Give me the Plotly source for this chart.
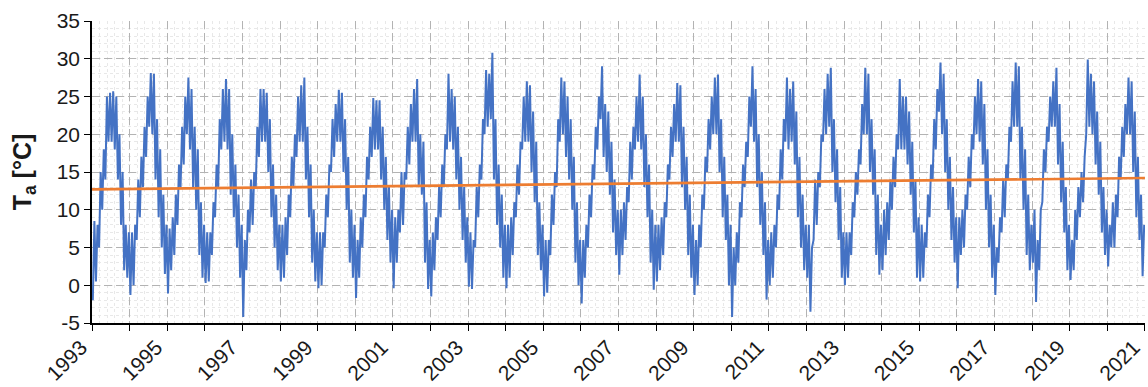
import plotly.graph_objects as go

# ---- data (monthly upper / lower envelope of daily Ta, °C) ----
years = list(range(1993, 2021))

t_high = [
    [8.5, 8, 15, 18, 25, 25.5, 25.7, 25, 20, 15, 8, 7],        # 1993
    [7, 8, 14, 17, 21, 25, 28.1, 28, 22, 18, 12, 8],           # 1994
    [7.5, 9, 12, 16, 21, 25, 27.5, 26, 21, 18, 11, 8],         # 1995
    [7, 7, 11, 16, 22, 26, 27.3, 26, 20, 16, 12, 8],           # 1996
    [6, 10, 14, 15, 21, 26, 26, 25.5, 22, 16, 12, 8],          # 1997
    [8, 9, 12, 17, 20, 25, 26.5, 27.5, 21, 16, 10, 7],         # 1998
    [7, 7, 12, 16, 22, 24, 25.9, 25.5, 22, 17, 10, 8],         # 1999
    [6, 9, 12, 17, 21, 24.8, 24.5, 24.5, 21, 17, 13, 10],      # 2000
    [9, 10, 15, 15, 21, 24, 26, 27.3, 20, 19, 11, 6],          # 2001
    [7, 9, 13, 16, 20, 28, 26, 25, 21, 17, 13, 9],             # 2002
    [7, 6, 13, 16, 22, 28.5, 28, 30.8, 22, 16, 12, 8],         # 2003
    [8, 9, 11, 16, 19, 25, 27, 26.5, 23, 19, 11, 8],           # 2004
    [6, 6, 12, 15, 22, 27.5, 27, 25, 22, 17, 11, 6],           # 2005
    [6, 8, 12, 16, 21, 25, 29, 24, 23, 19, 14, 10],            # 2006
    [10, 11, 13, 19, 21, 25, 27.9, 25, 20, 16, 10, 8],         # 2007
    [8, 9, 11, 16, 21, 24, 26.8, 26.5, 21, 17, 12, 8],         # 2008
    [6, 8, 12, 17, 22, 25, 27.5, 27.9, 22, 17, 12, 8],         # 2009
    [5, 7, 11, 16, 19, 25, 29, 26, 20, 15, 11, 6],             # 2010
    [7, 8, 12, 18, 22, 27.5, 26, 27, 23, 17, 12, 8],           # 2011
    [8, 5, 14, 15, 20, 26, 28, 28.8, 22, 18, 13, 7],           # 2012
    [7, 7, 11, 15, 18, 24, 28.8, 28, 22, 18, 12, 8],           # 2013
    [10, 11, 14, 17, 20, 27.3, 25, 25, 23, 19, 14, 9],         # 2014
    [8, 7, 12, 16, 22, 26, 29.5, 28, 22, 17, 13, 9],           # 2015
    [9, 10, 12, 17, 20, 25, 27.3, 27, 24, 18, 12, 8],          # 2016
    [5, 9, 14, 16, 21, 27, 29.5, 29, 21, 18, 12, 8],           # 2017
    [10, 6, 10, 18, 21, 25, 27, 28.8, 24, 19, 13, 8],          # 2018
    [6, 10, 13, 15, 17, 29.9, 28, 27, 23, 19, 13, 10],         # 2019
    [8, 11, 12, 17, 21, 24, 27.5, 27, 23, 17, 12, 8],          # 2020
]

t_low = [
    [-2, 0.5, 5, 10, 14, 19, 19, 18, 14, 8, 2, 1],             # 1993
    [-1.3, 0, 6, 9, 13, 17, 21, 20, 14, 9, 5, 1.5],            # 1994
    [-1.1, 2, 4, 8, 13, 16, 20, 18, 13, 10, 4, 1],             # 1995
    [0.3, 0.5, 4, 9, 13, 18, 19, 18, 12, 9, 5, 1],             # 1996
    [-4.2, 2, 7, 8, 13, 17, 19, 19, 15, 9, 5, 2],              # 1997
    [0.5, 1, 4, 9, 13, 17, 19, 19, 14, 9, 3, 0.5],             # 1998
    [-0.4, 0, 5, 9, 15, 17, 19, 19, 15, 10, 3, 1],             # 1999
    [-1.7, 1, 5, 9, 14, 17, 18, 18, 14, 10, 6, 3],             # 2000
    [-0.4, 3, 7, 8, 14, 16, 19, 19, 13, 12, 3, -0.5],          # 2001
    [-1.5, 2, 6, 9, 13, 18, 19, 18, 14, 10, 6, 3],             # 2002
    [-0.2, -0.5, 5, 9, 14, 20, 21, 22, 14, 8, 5, 1],           # 2003
    [-0.4, 1, 4, 9, 12, 18, 19, 19, 15, 11, 4, 2],             # 2004
    [-1.5, -1, 4, 8, 13, 19, 20, 17, 14, 10, 3, 0],            # 2005
    [-2.4, 1, 5, 9, 14, 18, 22, 17, 15, 12, 7, 4],             # 2006
    [1.4, 4, 6, 11, 14, 18, 19, 18, 13, 9, 3, -0.6],           # 2007
    [0.5, 2, 4, 9, 14, 17, 19, 19, 13, 10, 4, 1],              # 2008
    [-1.3, 0, 5, 10, 15, 18, 20, 20, 15, 9, 6, 0],             # 2009
    [-4.2, 0, 3, 9, 13, 17, 21, 19, 13, 8, 4, -1.9],           # 2010
    [0, 1, 5, 10, 14, 19, 18, 19, 16, 9, 5, 2],                # 2011
    [1, -3.5, 6, 8, 13, 19, 20, 21, 15, 11, 6, 1],             # 2012
    [0, 1, 4, 9, 12, 16, 20, 20, 15, 12, 4, 1.4],              # 2013
    [2, 4, 6, 10, 13, 18, 18, 18, 16, 12, 7, 1],               # 2014
    [0.5, 1, 5, 9, 14, 18, 23, 20, 15, 10, 6, 3],              # 2015
    [-0.4, 4, 5, 10, 13, 18, 20, 19, 16, 10, 5, 1],            # 2016
    [-1.3, 3, 7, 9, 14, 19, 21, 21, 14, 10, 4, 2],             # 2017
    [3, -2.2, 2, 11, 15, 19, 21, 21, 16, 11, 7, 2],            # 2018
    [0.7, 2, 6, 9, 11, 20, 21, 20, 16, 12, 7, 4],              # 2019
    [2.5, 5, 5, 9, 14, 17, 20, 20, 15, 9, 6, 1.2],             # 2020
]

trend_x = [1993, 2021]
trend_y = [12.7, 14.2]

tick_years = list(range(1993, 2022))
tick_labels = [str(y) if (y - 1993) % 2 == 0 else "" for y in tick_years]
y_ticks = [-5, 0, 5, 10, 15, 20, 25, 30, 35]
y_tick_labels = [str(v) for v in y_ticks]

# ---- build the line (low / high alternating inside each month) ----
xs, ys = [], []
for yi, yr in enumerate(years):
    for m in range(12):
        xs.append(yr + (m + 0.25) / 12.0)
        ys.append(t_low[yi][m])
        xs.append(yr + (m + 0.75) / 12.0)
        ys.append(t_high[yi][m])

fig = go.Figure()
fig.add_trace(go.Scatter(x=xs, y=ys, mode="lines",
                         line=dict(color="#4472C4", width=2.0),
                         showlegend=False, hoverinfo="skip"))
fig.add_trace(go.Scatter(x=trend_x, y=trend_y, mode="lines",
                         line=dict(color="#ED7D31", width=2.6),
                         showlegend=False, hoverinfo="skip"))

font_family = "Liberation Sans, Arial, sans-serif"
major_dash = "8px,4px"

fig.update_layout(
    width=1148, height=387,
    margin=dict(l=92, r=3, t=21, b=64, autoexpand=False),
    paper_bgcolor="white", plot_bgcolor="white",
    font=dict(family=font_family, size=21, color="#1a1a1a"),
    xaxis=dict(
        range=[1992.999, 2021.001], automargin=False,
        tickmode="array", tickvals=tick_years, ticktext=tick_labels,
        tickangle=-45, ticklabelshift=-11, ticklabelstandoff=-4,
        ticklabeloverflow="allow",
        ticks="outside", ticklen=6, tickwidth=1.2, tickcolor="black",
        showline=True, linecolor="black", linewidth=1.5,
        showgrid=True, gridcolor="#b3b3b3", griddash=major_dash, gridwidth=1,
        zeroline=False,
        minor=dict(dtick=0.2, showgrid=True, gridcolor="#e8e8e8",
                   griddash="dot", gridwidth=1),
        tickfont=dict(size=21),
    ),
    yaxis=dict(
        range=[-5, 35], automargin=False,
        tickmode="array", tickvals=y_ticks, ticktext=y_tick_labels,
        ticks="outside", ticklen=6, tickwidth=1.2, tickcolor="black",
        showline=True, linecolor="black", linewidth=1.5,
        showgrid=True, gridcolor="#b3b3b3", griddash=major_dash, gridwidth=1,
        zeroline=False,
        minor=dict(tickmode="linear", tick0=0, dtick=1, showgrid=True,
                   gridcolor="#e8e8e8", griddash="dot", gridwidth=1),
        tickfont=dict(size=21),
        title=dict(text="<b>T<sub>a</sub> [°C]</b>",
                   font=dict(size=25, color="#1a1a1a"), standoff=18),
    ),
)

fig.write_html("out.html",
               config={"displayModeBar": False},
               post_script="document.body.style.margin='0';document.body.style.overflow='hidden';")
